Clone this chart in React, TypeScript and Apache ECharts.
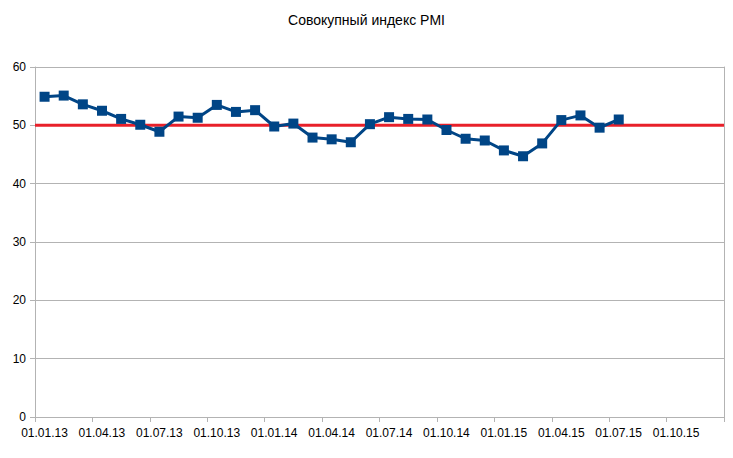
import React, { useEffect, useRef } from "react";
import * as echarts from "echarts";

const title = "Совокупный индекс PMI";
const months = [
  "01.13", "02.13", "03.13", "04.13", "05.13", "06.13", "07.13", "08.13", "09.13", "10.13", "11.13", "12.13",
  "01.14", "02.14", "03.14", "04.14", "05.14", "06.14", "07.14", "08.14", "09.14", "10.14", "11.14", "12.14",
  "01.15", "02.15", "03.15", "04.15", "05.15", "06.15", "07.15",
];
const pmiValues = [
  54.9, 55.1, 53.6, 52.5, 51.1, 50.1, 48.9, 51.5, 51.3, 53.5, 52.3, 52.6,
  49.8, 50.3, 47.9, 47.6, 47.1, 50.2, 51.4, 51.1, 51.0, 49.2, 47.7, 47.4,
  45.7, 44.7, 46.9, 50.9, 51.7, 49.6, 51.0,
];
const tickLabels = [
  "01.01.13", "01.04.13", "01.07.13", "01.10.13", "01.01.14", "01.04.14",
  "01.07.14", "01.10.14", "01.01.15", "01.04.15", "01.07.15", "01.10.15",
];
const threshold = 50;
const totalMonths = 36;

export default function App() {
  const ref = useRef<HTMLDivElement>(null);
  useEffect(() => {
    if (!ref.current) return;
    const chart = echarts.init(ref.current, null, { renderer: "svg" });
    const font = "'Liberation Sans', Arial, sans-serif";
    chart.setOption({
      animation: false,
      title: {
        text: title,
        left: "center",
        top: 8,
        textStyle: { fontFamily: font, fontSize: 14, fontWeight: "normal", color: "#000" },
      },
      grid: { left: 35, right: 9, top: 67, bottom: 41, containLabel: false },
      xAxis: {
        type: "value",
        min: 0,
        max: totalMonths,
        interval: 3,
        axisLine: { show: true, lineStyle: { color: "#b3b3b3", width: 1 } },
        axisTick: { show: true, length: 5, lineStyle: { color: "#b3b3b3" } },
        splitLine: { show: false },
        axisLabel: {
          fontFamily: font,
          fontSize: 12,
          color: "#000",
          margin: 10,
          align: "center",
          padding: [0, 0, 0, 19],
          showMaxLabel: true,
          formatter: (v: number) => tickLabels[Math.round(v / 3)] ?? "",
        },
      },
      yAxis: [
        {
          type: "value",
          min: 0,
          max: 60,
          interval: 10,
          axisLine: { show: true, lineStyle: { color: "#b3b3b3", width: 1 } },
          axisTick: { show: true, length: 5, lineStyle: { color: "#b3b3b3" } },
          splitLine: { show: true, lineStyle: { color: "#b3b3b3", width: 1 } },
          axisLabel: { fontFamily: font, fontSize: 12, color: "#000", margin: 9 },
        },
        {
          type: "value",
          position: "right",
          min: 0,
          max: 60,
          interval: 10,
          axisLine: { show: true, lineStyle: { color: "#b3b3b3", width: 1 } },
          axisTick: { show: false },
          splitLine: { show: false },
          axisLabel: { show: false },
        },
      ],
      series: [
        {
          type: "line",
          name: "threshold",
          data: [[0, threshold], [totalMonths, threshold]],
          symbol: "none",
          lineStyle: { color: "#e8202a", width: 3 },
          z: 2,
        },
        {
          type: "line",
          name: "PMI",
          data: pmiValues.map((v, i) => [i + 0.5, v]),
          symbol: "rect",
          symbolSize: 10,
          itemStyle: { color: "#004586" },
          lineStyle: { color: "#004586", width: 3 },
          z: 3,
        },
      ],
    });
    return () => chart.dispose();
  }, []);
  return (
    <div
      ref={ref}
      style={{ position: "fixed", left: 0, top: 0, width: 733, height: 458, background: "#fff" }}
    />
  );
}
